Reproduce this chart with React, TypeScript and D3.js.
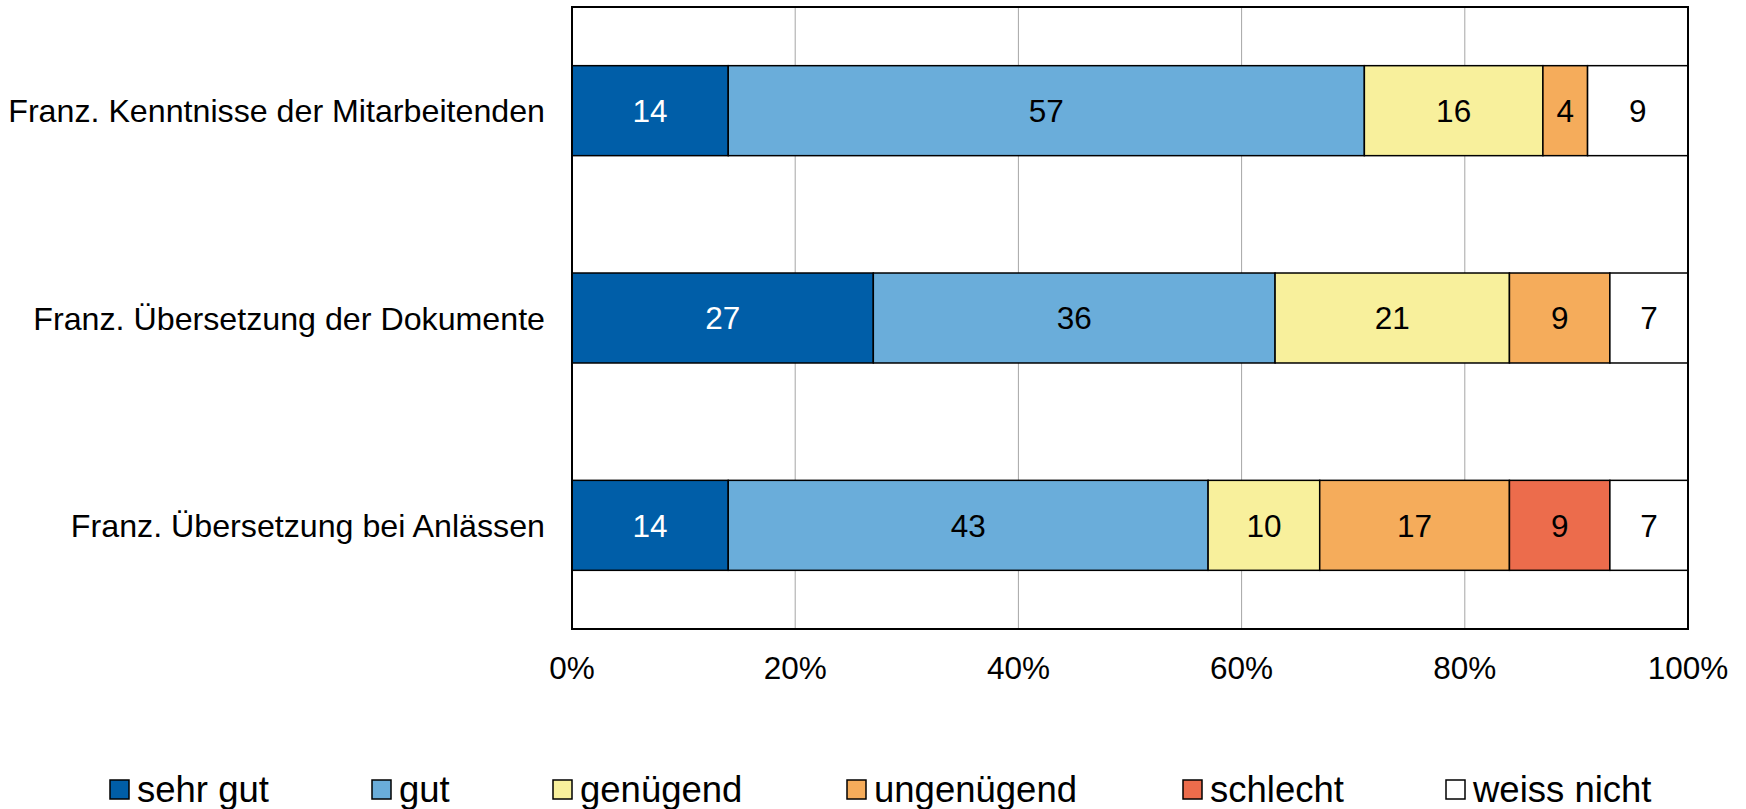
import React from "react";
import * as d3 from "d3";

const categories = [
  "Franz. Kenntnisse der Mitarbeitenden",
  "Franz. Übersetzung der Dokumente",
  "Franz. Übersetzung bei Anlässen",
];
const seriesNames = ["sehr gut", "gut", "genügend", "ungenügend", "schlecht", "weiss nicht"];
const sehrGut = [14, 27, 14];
const gut = [57, 36, 43];
const genuegend = [16, 21, 10];
const ungenuegend = [4, 9, 17];
const schlecht = [0, 0, 9];
const weissNicht = [9, 7, 7];
const xTicks = [0, 20, 40, 60, 80, 100];

const colors = ["#005EA8", "#6AADDA", "#F8F09C", "#F5AC5B", "#EC6C4C", "#FFFFFF"];
const labelColors = ["#FFFFFF", "#000000", "#000000", "#000000", "#000000", "#000000"];
const legendX = [110, 372, 553, 847, 1183, 1446];

const W = 1746;
const H = 809;
const M = { left: 572, right: 1688, top: 7, bottom: 629 };
const FONT = "'Liberation Sans', Arial, Helvetica, sans-serif";

export default function App() {
  const values = [sehrGut, gut, genuegend, ungenuegend, schlecht, weissNicht];
  const rows = categories.map((c, i) => {
    const r: any = { cat: c };
    seriesNames.forEach((s, j) => (r[s] = values[j][i]));
    return r;
  });
  const stack = d3.stack<any>().keys(seriesNames)(rows);

  const x = d3.scaleLinear().domain([0, 100]).range([M.left, M.right]);
  const y = d3
    .scaleBand()
    .domain(categories)
    .range([M.top, M.bottom])
    .paddingInner(0.566)
    .paddingOuter(0.283);
  const bw = y.bandwidth();

  return (
    <svg
      width={W}
      height={H}
      style={{ position: "absolute", left: 0, top: 0, background: "#fff" }}
      fontFamily={FONT}
    >
      {xTicks.slice(1, -1).map((t) => (
        <line key={t} x1={x(t)} x2={x(t)} y1={M.top} y2={M.bottom} stroke="#A6A6A6" strokeWidth={1} />
      ))}
      {stack.map((layer, j) =>
        layer.map((d, i) => {
          const v = d[1] - d[0];
          if (v <= 0) return null;
          const yy = y(categories[i])!;
          return (
            <g key={`${j}-${i}`}>
              <rect
                x={x(d[0])}
                y={yy}
                width={x(d[1]) - x(d[0])}
                height={bw}
                fill={colors[j]}
                stroke="#000"
                strokeWidth={1.5}
              />
              <text
                x={(x(d[0]) + x(d[1])) / 2}
                y={yy + bw / 2}
                dy="0.36em"
                textAnchor="middle"
                fontSize={31.5}
                fill={labelColors[j]}
              >
                {v}
              </text>
            </g>
          );
        })
      )}
      <rect
        x={M.left}
        y={M.top}
        width={M.right - M.left}
        height={M.bottom - M.top}
        fill="none"
        stroke="#000"
        strokeWidth={2}
      />
      {categories.map((c) => (
        <text
          key={c}
          x={545}
          y={y(c)! + bw / 2}
          dy="0.36em"
          textAnchor="end"
          fontSize={32.2}
          fill="#000"
        >
          {c}
        </text>
      ))}
      {xTicks.map((t) => (
        <text key={t} x={x(t)} y={679} textAnchor="middle" fontSize={31.5} fill="#000">
          {`${t}%`}
        </text>
      ))}
      {seriesNames.map((s, j) => (
        <g key={s}>
          <rect x={legendX[j]} y={780} width={19} height={19} fill={colors[j]} stroke="#000" strokeWidth={1.5} />
          <text x={legendX[j] + 27} y={802} fontSize={36.5} fill="#000">
            {s}
          </text>
        </g>
      ))}
    </svg>
  );
}
